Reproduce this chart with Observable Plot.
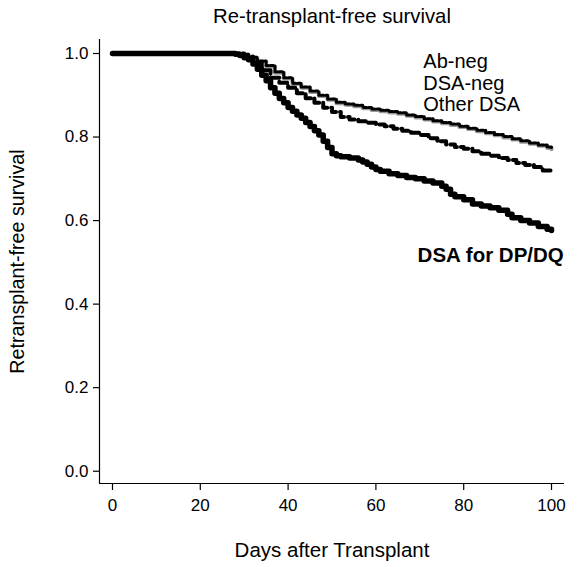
<!DOCTYPE html>
<html>
<head>
<meta charset="utf-8">
<script src="https://cdn.jsdelivr.net/npm/d3@7"></script>
<script src="https://cdn.jsdelivr.net/npm/@observablehq/plot@0.6"></script>
<style>
  html, body { margin: 0; padding: 0; background: #fff; }
  svg { font-family: "Liberation Sans", Arial, sans-serif; }
</style>
</head>
<body>
<div id="chart"></div>
<script>
const titleText = "Re-transplant-free survival";
const xLabel = "Days after Transplant";
const yLabel = "Retransplant-free survival";
const xTicks = [0, 20, 40, 60, 80, 100];
const yTicks = [0.0, 0.2, 0.4, 0.6, 0.8, 1.0];

// Ab-neg (grey)
const abNegDays = [0,27,29,31,33,35,37,39,41,43,45,47,49,51,53,55,57,59,61,63,65,67,69,71,73,75,77,79,81,83,85,87,89,91,93,95,97,99,100];
const abNegSurv = [1,1,0.997,0.99,0.98,0.969,0.954,0.94,0.927,0.918,0.908,0.898,0.889,0.881,0.877,0.874,0.869,0.865,0.862,0.859,0.856,0.851,0.847,0.842,0.837,0.833,0.829,0.824,0.819,0.814,0.809,0.804,0.799,0.794,0.789,0.784,0.779,0.774,0.771];
// DSA-neg (black dotted)
const dsaNegDays = [0,27,29,31,33,35,37,39,41,43,45,47,49,51,53,55,57,59,61,63,65,67,69,71,73,75,77,79,81,83,85,87,89,91,93,95,97,99,100];
const dsaNegSurv = [1,1,0.998,0.991,0.982,0.971,0.956,0.942,0.929,0.92,0.91,0.9,0.891,0.883,0.879,0.876,0.871,0.867,0.864,0.861,0.858,0.853,0.849,0.844,0.839,0.835,0.831,0.826,0.821,0.816,0.811,0.806,0.801,0.796,0.791,0.786,0.781,0.776,0.773];
// Other DSA (black dashed)
const otherDays = [0,28,30,32,34,36,38,40,42,44,46,48,50,52,54,56,58,60,62,64,66,68,70,72,74,76,78,80,82,84,86,88,90,92,94,96,98,100];
const otherSurv = [1,1,0.993,0.978,0.96,0.942,0.93,0.918,0.905,0.893,0.882,0.87,0.86,0.848,0.842,0.838,0.834,0.83,0.826,0.82,0.815,0.81,0.805,0.797,0.79,0.782,0.776,0.772,0.766,0.76,0.755,0.75,0.745,0.738,0.733,0.728,0.72,0.715];
// DSA for DP/DQ (black solid thick)
const dpdqDays = [0,27,28,29,30,31,32,33,34,35,36,37,38,39,40,41,42,43,44,45,46,47,48,49,50,51,52,54,56,57,58,59,60,61,63,65,67,69,71,73,75,76,77,78,80,82,84,86,88,90,91,93,95,97,99,100];
const dpdqSurv = [1,1,0.998,0.995,0.99,0.985,0.975,0.962,0.948,0.935,0.918,0.905,0.892,0.882,0.871,0.862,0.853,0.845,0.835,0.825,0.815,0.805,0.79,0.775,0.76,0.755,0.753,0.75,0.745,0.74,0.735,0.728,0.722,0.718,0.712,0.708,0.703,0.7,0.695,0.69,0.682,0.675,0.663,0.657,0.65,0.64,0.635,0.631,0.625,0.615,0.607,0.6,0.594,0.586,0.579,0.576];

const seriesNames = ["Ab-neg", "DSA-neg", "Other DSA", "DSA for DP/DQ"];
const labelDays = [70.8, 70.8, 70.8, 69.5];
const labelSurv = [0.981, 0.928, 0.878, 0.516];

const toRows = (days, surv) => days.map((d, i) => ({day: d, surv: surv[i]}));
const abNeg = toRows(abNegDays, abNegSurv);
const dsaNeg = toRows(dsaNegDays, dsaNegSurv);
const other = toRows(otherDays, otherSurv);
const dpdq = toRows(dpdqDays, dpdqSurv);
const labels = seriesNames.map((n, i) => ({name: n, day: labelDays[i], surv: labelSurv[i], bold: i === 3}));

const xDomain = [-2.96, 102.96];
const yDomain = [-0.0294, 1.0335];

const chart = Plot.plot({
  width: 577,
  height: 567,
  marginLeft: 99,
  marginRight: 13,
  marginTop: 39,
  marginBottom: 84,
  style: {fontFamily: "'Liberation Sans', Arial, sans-serif", fontSize: "17px", color: "#000", background: "#fff"},
  x: {domain: xDomain, label: null},
  y: {domain: yDomain, label: null},
  marks: [
    Plot.ruleX([xDomain[0]], {stroke: "#000", strokeWidth: 1.2}),
    Plot.ruleY([yDomain[0]], {stroke: "#000", strokeWidth: 1.2}),
    Plot.axisX(xTicks, {tickSize: 7, tickPadding: 8, fontSize: 17, strokeWidth: 1.2, tickFormat: d3.format("d")}),
    Plot.axisY(yTicks, {tickSize: 6, tickPadding: 5, fontSize: 17, strokeWidth: 1.2, tickFormat: d3.format(".1f")}),
    Plot.line(abNeg, {x: "day", y: "surv", curve: "step-after", stroke: "#999", strokeWidth: 4}),
    Plot.line(dsaNeg, {x: "day", y: "surv", curve: "step-after", stroke: "#000", strokeWidth: 3, strokeDasharray: "3,2"}),
    Plot.line(other, {x: "day", y: "surv", curve: "step-after", stroke: "#000", strokeWidth: 4, strokeDasharray: "9,4"}),
    Plot.line(dpdq, {x: "day", y: "surv", curve: "step-after", stroke: "#000", strokeWidth: 5.5}),
    Plot.text(labels.filter(d => !d.bold), {x: "day", y: "surv", text: "name", textAnchor: "start", fontSize: 20, fill: "#000"}),
    Plot.text(labels.filter(d => d.bold), {x: "day", y: "surv", text: "name", textAnchor: "start", fontSize: 20.5, fontWeight: "bold", fill: "#000"}),
    Plot.text([titleText], {frameAnchor: "top", lineAnchor: "middle", dy: -23, fontSize: 20.3, fill: "#000"}),
    Plot.text([xLabel], {frameAnchor: "bottom", lineAnchor: "middle", dy: 67, fontSize: 20.5, fill: "#000"}),
    Plot.text([yLabel], {frameAnchor: "left", textAnchor: "middle", lineAnchor: "middle", dx: -82, rotate: -90, fontSize: 19.7, fill: "#000"})
  ]
});
document.getElementById("chart").appendChild(chart);
</script>
</body>
</html>
